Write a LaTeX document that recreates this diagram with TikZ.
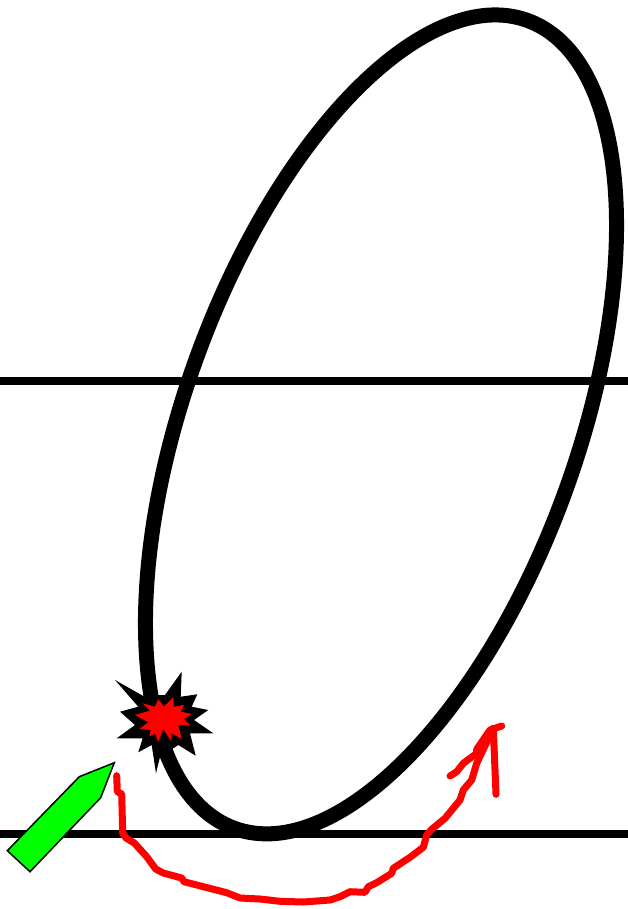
\documentclass[tikz,border=0pt]{standalone}
\usepackage{tikz}
\definecolor{ink}{RGB}{0,0,0}
\definecolor{accentgreen}{RGB}{0,255,0}
\definecolor{accentred}{RGB}{255,0,0}
\tikzset{
  horizon/.style={draw=ink,line width=7.5pt},
  orbit/.style={draw=ink,line width=15pt},
  stroke/.style={draw=accentred,line width=7pt,line cap=round,line join=round}
}

\begin{document}
\begin{tikzpicture}[x=1pt,y=-1pt]
    \useasboundingbox (0,0) rectangle (628,909);
    % horizontal lines
    \draw[horizon] (0,381) -- (628,381);
    \draw[horizon] (0,834) -- (628,834);
    % tilted ellipse
    \draw[orbit,rotate around={70.05:(381,424.4)}] (381,424.4)
      ellipse [x radius=429.7pt,y radius=196.1pt];
    % burst, black then red
    \fill[ink] (115,680) -- (142.7,695.7) -- (165,695) -- (181.7,671.7)
      -- (180.7,696.7) -- (197.3,694.3) -- (191.7,706.7) -- (208.3,710)
      -- (194,720) -- (213.3,733.3) -- (190,733.3) -- (195.7,755.7)
      -- (178.3,745) -- (160,757) -- (156,773.3) -- (151.7,745)
      -- (138.3,752.3) -- (142.7,738.3) -- (116.7,738.3) -- (135,725)
      -- (120,711.7) -- (138.3,706.7) -- cycle;
    \fill[accentred] (135,715) -- (150,710.7) -- (142.7,703.3) -- (155,706.7)
      -- (158.3,699.3) -- (164,706.7) -- (173.3,697.3) -- (174,706.7)
      -- (184,705) -- (181,711.7) -- (191.7,714) -- (184,719) -- (190,725)
      -- (178.3,725) -- (181.7,739) -- (171.7,733.3) -- (171,741)
      -- (163.3,729) -- (158.3,741.7) -- (155,733.3) -- (149.3,736.7)
      -- (150.7,730) -- (139.3,729) -- (148.3,722.3) -- cycle;
    % green pointer
    \draw[ink,fill=accentgreen,line width=1.5pt,line join=miter]
      (114.3,762.7) -- (79.3,776.7) -- (7.3,850.7) -- (30,871.7)
      -- (100.7,797.7) -- cycle;
    % red hand drawn arrow
    \draw[stroke] (116.7,775.7) -- (117.3,791.7) -- (121.7,794) -- (122.7,833)
      -- (126,838) -- (134.3,843) -- (146.7,856.7) -- (155.7,869) -- (163.3,873)
      -- (181.7,878) -- (184,881.7) -- (226.7,892.7) -- (240,898) -- (260,899)
      -- (280,901.3) -- (303.3,902) -- (330,900) -- (340,896.7) -- (350,891.7)
      -- (365,892.3) -- (368.3,886.7) -- (376.7,882.7) -- (391.7,873.3)
      -- (393.3,868.3) -- (410,857.3) -- (423.3,847.3) -- (426.7,835)
      -- (431.7,829.3) -- (445,818.3) -- (460,800) -- (463.3,790) -- (471.7,780)
      -- (476.7,763.3) -- (493.3,728.3);
    \draw[stroke] (450,776) -- (456.7,771.7) -- (463.3,763.3) -- (476.7,753.3)
      -- (476.7,749.3) -- (490,730) -- (501.7,726);
    \draw[stroke] (493.3,728.3) -- (496,794.3);
  \end{tikzpicture}
\end{document}
